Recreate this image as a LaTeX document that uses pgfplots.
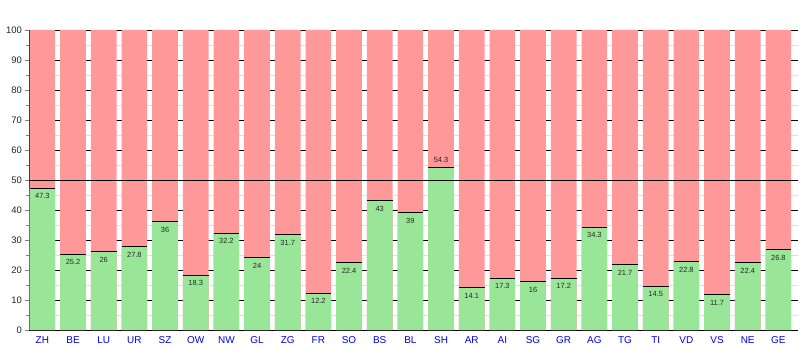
\documentclass[border=0pt]{standalone}
\usepackage{pgfplots}
\pgfplotsset{compat=1.18}
\usepackage{fontspec}
\setmainfont{Liberation Sans}
\definecolor{bargreen}{RGB}{153,230,153}
\definecolor{barred}{RGB}{255,153,153}
\definecolor{mgrid}{RGB}{224,224,224}
\definecolor{lblblue}{RGB}{0,0,230}
\definecolor{valtxt}{RGB}{40,40,40}
\begin{document}
\begin{tikzpicture}[x=1bp,y=1bp]
\begin{axis}[
  name=ax,
  scale only axis,
  width=768.5bp, height=300bp,
  xmin=-0.42, xmax=24.64,
  ymin=0, ymax=100,
  axis x line*=bottom, axis y line*=left,
  axis line style={-, black, line width=0.8bp},
  xtick={0,...,24},
  xticklabels={ZH,BE,LU,UR,SZ,OW,NW,GL,ZG,FR,SO,BS,BL,SH,AR,AI,SG,GR,AG,TG,TI,VD,VS,NE,GE},
  x tick label style={font=\fontsize{10}{12}\selectfont, text=lblblue, yshift=1bp},
  major x tick style={draw=none},
  ytick={0,10,...,100},
  minor ytick={5,15,...,95},
  y tick label style={font=\fontsize{9.5}{11}\selectfont, text=black!85},
  tick align=outside,
  major tick length=4bp, minor tick length=3bp,
  ymajorgrids, yminorgrids,
  major grid style={black, line width=0.8bp},
  minor grid style={mgrid, line width=0.8bp},
  /pgf/number format/assume math mode=true,
  ybar, bar width=0.838, bar shift=0pt,
  clip=false,
]
\addplot[fill=barred, draw=none] coordinates {
(0,100)(1,100)(2,100)(3,100)(4,100)(5,100)(6,100)(7,100)(8,100)(9,100)(10,100)(11,100)(12,100)(13,100)(14,100)(15,100)(16,100)(17,100)(18,100)(19,100)(20,100)(21,100)(22,100)(23,100)(24,100)};
\addplot[fill=bargreen, draw=none] coordinates {
(0,47.3)(1,25.2)(2,26)(3,27.8)(4,36)(5,18.3)(6,32.2)(7,24)(8,31.7)(9,12.2)(10,22.4)(11,43)(12,39)(13,54.3)(14,14.1)(15,17.3)(16,16)(17,17.2)(18,34.3)(19,21.7)(20,14.5)(21,22.8)(22,11.7)(23,22.4)(24,26.8)};
\addplot[sharp plot, black, line width=0.8bp, mark=none] coordinates {(-0.42,50)(24.64,50)};
\addplot[only marks, mark=-, mark size=12.85bp, mark options={black, line width=1bp},
  nodes near coords, every node near coord/.append style={anchor=north, yshift=-1.5bp, font=\fontsize{7.5}{9}\selectfont, text=valtxt}] coordinates {
(0,47.3)(1,25.2)(2,26)(3,27.8)(4,36)(5,18.3)(6,32.2)(7,24)(8,31.7)(9,12.2)(10,22.4)(11,43)(12,39)(14,14.1)(15,17.3)(16,16)(17,17.2)(18,34.3)(19,21.7)(20,14.5)(21,22.8)(22,11.7)(23,22.4)(24,26.8)};
\addplot[only marks, mark=-, mark size=12.85bp, mark options={black, line width=1bp},
  nodes near coords, every node near coord/.append style={anchor=south, yshift=1bp, font=\fontsize{7.5}{9}\selectfont, text=valtxt}] coordinates {
(13,54.3)};
\end{axis}
\pgfresetboundingbox
\path (ax.south west) ++(-29.5bp,-20bp) rectangle ++(801bp,350bp);
\end{tikzpicture}
\end{document}
